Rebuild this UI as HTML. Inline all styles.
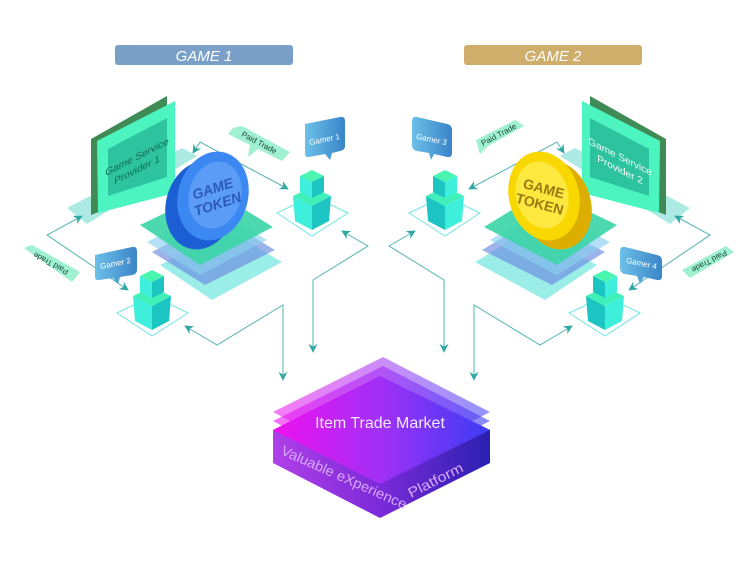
<!DOCTYPE html>
<html><head><meta charset="utf-8"><style>
html,body{margin:0;padding:0;background:#fff;}
svg{display:block;}
text{font-family:"Liberation Sans",sans-serif;}
</style></head><body>
<svg width="750" height="571" viewBox="0 0 750 571" xmlns="http://www.w3.org/2000/svg">
<defs>
<marker id="ar" viewBox="0 0 10 10" refX="9" refY="5" markerWidth="9" markerHeight="9" orient="auto-start-reverse" markerUnits="userSpaceOnUse">
<path d="M0,0 L10,5 L0,10 L3,5 Z" fill="#2fa8a4"/></marker>
<linearGradient id="mk" x1="0" x2="1" y1="0" y2="0"><stop offset="0" stop-color="#f010f0"/><stop offset="0.5" stop-color="#a030f5"/><stop offset="1" stop-color="#3a3cf5"/></linearGradient>
<linearGradient id="mk2" x1="0" x2="1" y1="0" y2="0"><stop offset="0" stop-color="#b040e8"/><stop offset="0.5" stop-color="#7a2ad8"/><stop offset="1" stop-color="#2a20b0"/></linearGradient>
<linearGradient id="bub" x1="0" x2="1"><stop offset="0" stop-color="#6cc0e8"/><stop offset="1" stop-color="#3a84c8"/></linearGradient>
<g id="cube">
<polygon points="277,213 312,196 348,213 312,236" fill="none" stroke="#6fe6e6" stroke-width="1"/>
<polygon points="293,196 312,206 312,230 295,221" fill="#3ef0dc"/>
<polygon points="312,206 331,196 329,221 312,230" fill="#1cc4c2"/>
<polygon points="293,196 312,187 331,196 312,206" fill="#40f0b8"/>
<polygon points="300,176 312,182 312,198 300,192" fill="#3ef0dc"/>
<polygon points="312,182 324,176 324,192 312,198" fill="#1cc4c2"/>
<polygon points="300,176 312,170 324,176 312,182" fill="#4af5b0"/>
</g>
<g id="side">
<polygon points="67,208 182,148 197,156 87,224" fill="#9fe6de" opacity="0.85"/>
<polygon points="91,139 167,96 167,185 91,215" fill="#3f8a55"/>
<polygon points="97,141 175,101 175,193 98,213" fill="#4cf5c0"/>
<polygon points="108,149 167,118 167,177 108,196" fill="#2cc39e"/>
<polygon points="160,265 228,230 282,262 212,300" fill="#7ae8e0" opacity="0.75"/>
<polygon points="152,252 220,217 275,250 205,285" fill="#6a88e0" opacity="0.65"/>
<polygon points="147,242 215,207 267,240 200,275" fill="#8ad0f0" opacity="0.65"/>
<polygon points="140,225 213,190 273,227 200,265" fill="#3ed6a8" opacity="0.92"/>
<use href="#cube"/>
<use href="#cube" transform="translate(-160,100)"/>
<g fill="none" stroke="#52b4b2" stroke-width="1">
<path d="M82,216 L47,235 L128,290" marker-start="url(#ar)" marker-end="url(#ar)"/>
<path d="M193,153 L200,142 L288,189" marker-start="url(#ar)" marker-end="url(#ar)"/>
<path d="M185,326 L217,345 L283,305 L283,380" marker-start="url(#ar)" marker-end="url(#ar)"/>
<path d="M342,231 L368,246 L313,280 L313,352" marker-start="url(#ar)" marker-end="url(#ar)"/>
</g>
</g>
</defs>

<rect x="115" y="45" width="178" height="20" rx="3" fill="#7aa0c8"/>
<text x="204" y="61" fill="#fff" font-size="15" font-style="italic" text-anchor="middle">GAME 1</text>
<rect x="464" y="45" width="178" height="20" rx="3" fill="#cfad6a"/>
<text x="553" y="61" fill="#fff" font-size="15" font-style="italic" text-anchor="middle">GAME 2</text>

<use href="#side"/>
<use href="#side" transform="translate(757,0) scale(-1,1)"/>

<text transform="translate(137,160) skewY(-27)" font-size="10" fill="#156a52" text-anchor="middle"><tspan x="0" y="0">Game Service</tspan><tspan x="0" y="13">Provider 1</tspan></text>
<ellipse cx="201" cy="205" rx="35" ry="45" transform="rotate(15 201 205)" fill="#1c5fd4"/>
<ellipse cx="213" cy="196" rx="35" ry="45" transform="rotate(15 213 196)" fill="#3c88f2"/>
<ellipse cx="215" cy="195" rx="26" ry="34" transform="rotate(15 215 195)" fill="#5b9cf6"/>
<text transform="translate(216,199) rotate(-18)" font-size="14" font-weight="bold" font-style="italic" fill="#2c5ab8" text-anchor="middle"><tspan x="0" y="-6">GAME</tspan><tspan x="0" y="10">TOKEN</tspan></text>

<text transform="translate(620,160) skewY(27)" font-size="10" fill="#f0fff8" text-anchor="middle"><tspan x="0" y="0">Game Service</tspan><tspan x="0" y="13">Provider 2</tspan></text>
<ellipse cx="556" cy="205" rx="35" ry="45" transform="rotate(-15 556 205)" fill="#dcae00"/>
<ellipse cx="544" cy="196" rx="35" ry="45" transform="rotate(-15 544 196)" fill="#f8d800"/>
<ellipse cx="542" cy="195" rx="26" ry="34" transform="rotate(-15 542 195)" fill="#fde840"/>
<text transform="translate(541,199) rotate(15)" font-size="14" font-weight="bold" fill="#9a7a10" text-anchor="middle"><tspan x="0" y="-6">GAME</tspan><tspan x="0" y="10">TOKEN</tspan></text>

<g>
<path d="M305,124 L340,117 Q345,116 345,121 L345,146 Q345,150 340,151 L332,153 L330,160 L325,154 L309,157 Q305,158 305,153 Z" fill="url(#bub)"/>
<text transform="translate(325,142) rotate(-12)" font-size="8" fill="#fff" text-anchor="middle">Gamer 1</text>
<path d="M95,255 L132,247 Q137,246 137,251 L137,270 Q137,274 132,275 L120,277 L118,284 L113,278 L99,280 Q95,281 95,276 Z" fill="url(#bub)"/>
<text transform="translate(116,266) rotate(-12)" font-size="8" fill="#fff" text-anchor="middle">Gamer 2</text>
<path d="M412,121 Q412,116 417,117 L447,124 Q452,125 452,130 L452,153 Q452,158 447,157 L434,154 L431,160 L429,153 L417,151 Q412,150 412,145 Z" fill="url(#bub)"/>
<text transform="translate(431,142) rotate(12)" font-size="8" fill="#fff" text-anchor="middle">Gamer 3</text>
<path d="M620,251 Q620,246 625,247 L657,255 Q662,256 662,261 L662,276 Q662,281 657,280 L644,277 L640,284 L637,276 L625,274 Q620,273 620,268 Z" fill="url(#bub)"/>
<text transform="translate(641,266) rotate(12)" font-size="8" fill="#fff" text-anchor="middle">Gamer 4</text>
</g>

<g fill="#a0f0d2">
<polygon points="233,128 242,126 290,152 282,161 258,149 248,157 250,145 228,134"/>
<polygon points="24,248 32,245 80,272 72,282"/>
<polygon points="476,140 515,120 524,126 488,146 480,154"/>
<polygon points="682,270 726,246 734,252 690,278"/>
</g>
<text transform="translate(258,145) rotate(28)" font-size="8" fill="#1a4a3a" text-anchor="middle">Paid Trade</text>
<text transform="translate(52,261) rotate(208)" font-size="8" fill="#1a4a3a" text-anchor="middle">Paid Trade</text>
<text transform="translate(500,137) rotate(-28)" font-size="8" fill="#1a4a3a" text-anchor="middle">Paid Trade</text>
<text transform="translate(708,259) rotate(-208)" font-size="8" fill="#1a4a3a" text-anchor="middle">Paid Trade</text>

<polygon points="273,430 380,376 490,430 490,463 380,518 273,463" fill="url(#mk2)"/>
<polygon points="273,412 383,357 490,412 380,468" fill="url(#mk)" opacity="0.55"/>
<polygon points="273,421 383,366 490,421 380,477" fill="url(#mk)" opacity="0.6"/>
<polygon points="273,430 380,376 490,430 380,484" fill="url(#mk)"/>
<text x="380" y="428" font-size="16" fill="#f4e8ff" text-anchor="middle">Item Trade Market</text>
<text transform="translate(280,454) rotate(24)" font-size="14" fill="#d7a8ff" textLength="136" lengthAdjust="spacingAndGlyphs">Valuable eXperience</text>
<text transform="translate(411,498) rotate(-27)" font-size="14" fill="#d7a8ff" textLength="60" lengthAdjust="spacingAndGlyphs">Platform</text>
</svg>
</body></html>
